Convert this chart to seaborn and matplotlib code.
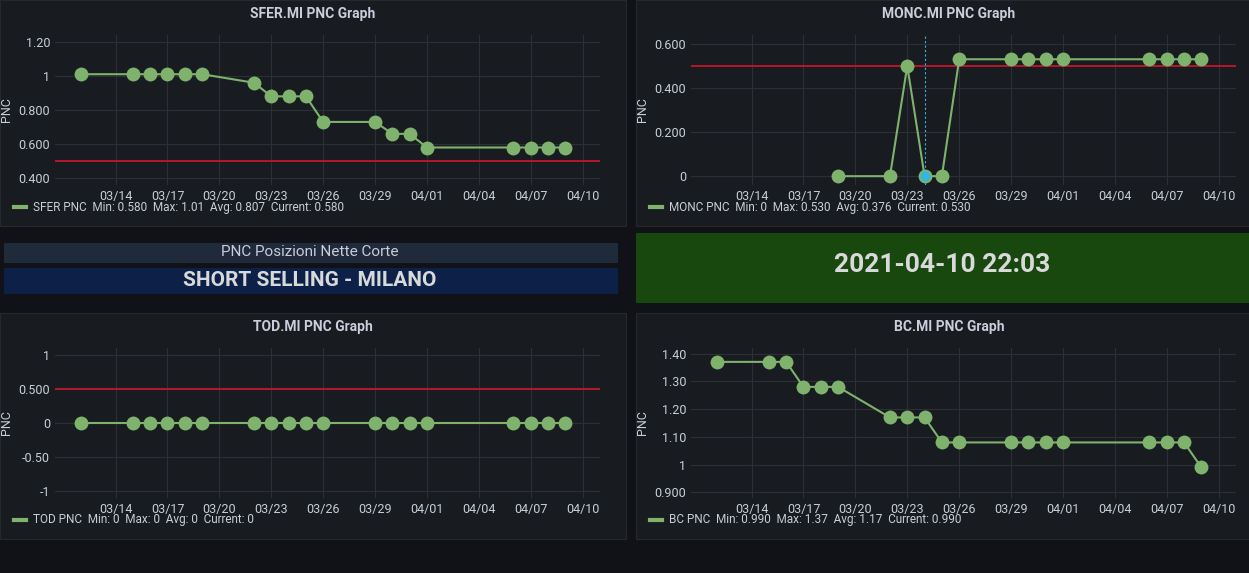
import matplotlib
matplotlib.use("Agg")
import matplotlib.pyplot as plt
import matplotlib.dates as mdates
import seaborn as sns
import pandas as pd

plt.rcParams["font.family"] = "Roboto"

# ---- data ----
dates_a = ["2021-03-12", "2021-03-15", "2021-03-16", "2021-03-17", "2021-03-18", "2021-03-19",
           "2021-03-22", "2021-03-23", "2021-03-24", "2021-03-25", "2021-03-26", "2021-03-29",
           "2021-03-30", "2021-03-31", "2021-04-01", "2021-04-06", "2021-04-07", "2021-04-08",
           "2021-04-09"]
sfer_pnc = [1.01, 1.01, 1.01, 1.01, 1.01, 1.01, 0.96, 0.88, 0.88, 0.88, 0.73, 0.73,
            0.66, 0.66, 0.58, 0.58, 0.58, 0.58, 0.58]
tod_pnc = [0] * 19

monc_dates = ["2021-03-19", "2021-03-22", "2021-03-23", "2021-03-24", "2021-03-25", "2021-03-26",
              "2021-03-29", "2021-03-30", "2021-03-31", "2021-04-01", "2021-04-06", "2021-04-07",
              "2021-04-08", "2021-04-09"]
monc_pnc = [0, 0, 0.5, 0, 0, 0.53, 0.53, 0.53, 0.53, 0.53, 0.53, 0.53, 0.53, 0.53]

bc_dates = dates_a
bc_pnc = [1.37, 1.37, 1.37, 1.28, 1.28, 1.28, 1.17, 1.17, 1.17, 1.08, 1.08, 1.08,
          1.08, 1.08, 1.08, 1.08, 1.08, 1.08, 0.99]

x_ticks = ["2021-03-14", "2021-03-17", "2021-03-20", "2021-03-23", "2021-03-26", "2021-03-29",
           "2021-04-01", "2021-04-04", "2021-04-07", "2021-04-10"]

BG = "#111217"
PANEL = "#181b1f"
GREEN = "#7eb26d"
RED = "#c4162a"
TXT = "#ccccdc"
W, H = 1249, 573

fig = plt.figure(figsize=(W / 100, H / 100), dpi=100)
fig.patch.set_facecolor(BG)


def box(x0, y0, x1, y1, color, edge=None):
    fig.patches.append(plt.Rectangle((x0 / W, 1 - y1 / H), (x1 - x0) / W, (y1 - y0) / H,
                                     transform=fig.transFigure, facecolor=color,
                                     edgecolor=edge or color, lw=0.8, zorder=-10))


def panel(px, py, title, dates, vals, yticks, ylabels, ylim, thr, legend, hl=None):
    box(px, py, px + 626, py + 226, PANEL, "#25282d")
    fig.text((px + 313) / W, 1 - (py + 14) / H, title, color=TXT, fontsize=10,
             fontweight="bold", ha="center", va="center")
    ax = fig.add_axes([(px + 55) / W, 1 - (py + 185) / H, 545 / W, 150 / H])
    ax.set_facecolor(PANEL)
    df = pd.DataFrame({"date": pd.to_datetime(dates), "pnc": vals})
    sns.lineplot(data=df, x="date", y="pnc", ax=ax, color=GREEN, marker="o",
                 markersize=10, markeredgewidth=0, lw=1.5, zorder=3)
    if thr is not None:
        ax.axhline(thr, color=RED, lw=1.3, zorder=2)
    if hl is not None:
        ax.axvline(pd.Timestamp(hl), color="#33b5e5", lw=0.8, ls=(0, (2, 2)), zorder=4)
        ax.plot([pd.Timestamp(hl)], [0], "o", color="#33b5e5", ms=6, zorder=5)
    ax.set_xlim(pd.Timestamp("2021-03-10 12:00"), pd.Timestamp("2021-04-11 00:00"))
    ax.set_ylim(*ylim)
    ax.set_xticks(pd.to_datetime(x_ticks))
    ax.xaxis.set_major_formatter(mdates.DateFormatter("%m/%d"))
    ax.set_yticks(yticks)
    ax.set_yticklabels(ylabels)
    ax.grid(True, color="#2c2f35", lw=0.8, zorder=0)
    ax.set_axisbelow(True)
    ax.tick_params(colors="#c7d0d9", labelsize=9, length=0)
    for s in ax.spines.values():
        s.set_visible(False)
    ax.set_xlabel("")
    ax.set_ylabel("PNC", color="#c7d0d9", fontsize=9)
    fig.lines.append(plt.Line2D([(px + 14) / W, (px + 26) / W], [1 - (py + 207) / H] * 2,
                                transform=fig.transFigure, color=GREEN, lw=3))
    fig.text((px + 33) / W, 1 - (py + 207) / H, legend, color="#c7d0d9", fontsize=8.5, va="center")


panel(0, 0, "SFER.MI PNC Graph", dates_a, sfer_pnc,
      [0.4, 0.6, 0.8, 1.0, 1.2], ["0.400", "0.600", "0.800", "1", "1.20"], (0.36, 1.24), 0.5,
      "SFER PNC  Min: 0.580  Max: 1.01  Avg: 0.807  Current: 0.580")
panel(636, 0, "MONC.MI PNC Graph", monc_dates, monc_pnc,
      [0, 0.2, 0.4, 0.6], ["0", "0.200", "0.400", "0.600"], (-0.04, 0.64), 0.5,
      "MONC PNC  Min: 0  Max: 0.530  Avg: 0.376  Current: 0.530", hl="2021-03-24")
panel(0, 313, "TOD.MI PNC Graph", dates_a, tod_pnc,
      [-1, -0.5, 0, 0.5, 1], ["-1", "-0.50", "0", "0.500", "1"], (-1.1, 1.1), 0.5,
      "TOD PNC  Min: 0  Max: 0  Avg: 0  Current: 0")
panel(636, 313, "BC.MI PNC Graph", bc_dates, bc_pnc,
      [0.9, 1.0, 1.1, 1.2, 1.3, 1.4], ["0.900", "1", "1.10", "1.20", "1.30", "1.40"],
      (0.88, 1.42), None,
      "BC PNC  Min: 0.990  Max: 1.37  Avg: 1.17  Current: 0.990")

# middle strip
box(4, 243, 617, 262, "#1f2a3a")
fig.text(310 / W, 1 - 252 / H, "PNC Posizioni Nette Corte", color=TXT, fontsize=11,
         ha="center", va="center")
box(4, 268, 617, 293, "#0d2148")
fig.text(310 / W, 1 - 281 / H, "SHORT SELLING - MILANO", color="#d8d9da", fontsize=15,
         fontweight="bold", ha="center", va="center")
box(636, 233, 1249, 302, "#19480e")
fig.text(942 / W, 1 - 265 / H, "2021-04-10 22:03", color="#d8d9da", fontsize=19,
         fontweight="bold", ha="center", va="center")

fig.savefig("out.png", dpi=100, facecolor=BG)
